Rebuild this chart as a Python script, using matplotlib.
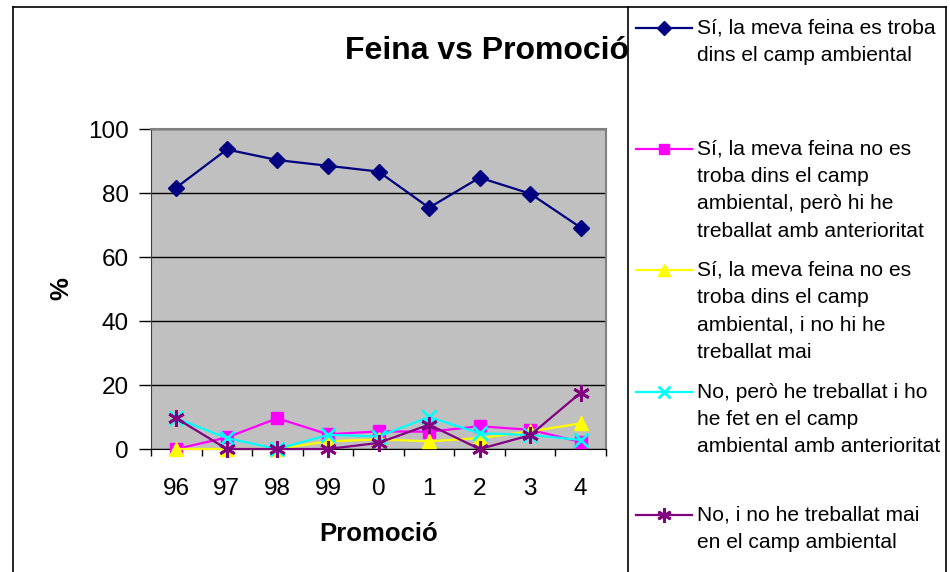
import numpy as np
import matplotlib
matplotlib.use("Agg")
import matplotlib.pyplot as plt
from matplotlib.lines import Line2D

plt.rcParams['font.family'] = ['Liberation Sans', 'DejaVu Sans']

# data
promocions = ['96', '97', '98', '99', '0', '1', '2', '3', '4']
si_dins = [81.7, 93.6, 90.3, 88.5, 86.7, 75.4, 84.8, 79.8, 69.2]
si_fora_abans = [0.0, 3.6, 9.6, 4.6, 5.5, 5.4, 7.1, 6.0, 2.2]
si_fora_mai = [0.0, 0.0, 0.0, 2.4, 3.0, 2.4, 3.4, 5.5, 8.0]
no_abans = [9.6, 3.4, 0.0, 4.4, 3.9, 10.0, 4.9, 4.4, 2.8]
no_mai = [9.6, 0.0, 0.0, 0.0, 1.9, 7.6, 0.0, 4.3, 17.6]

series_labels = [
    ['Sí, la meva feina es troba', 'dins el camp ambiental'],
    ['Sí, la meva feina no es', 'troba dins el camp', 'ambiental, però hi he', 'treballat amb anterioritat'],
    ['Sí, la meva feina no es', 'troba dins el camp', 'ambiental, i no hi he', 'treballat mai'],
    ['No, però he treballat i ho', 'he fet en el camp', 'ambiental amb anterioritat'],
    ['No, i no he treballat mai', 'en el camp ambiental'],
]
series_values = [si_dins, si_fora_abans, si_fora_mai, no_abans, no_mai]
colors = ['#000080', '#FF00FF', '#FFFF00', '#00FFFF', '#800080']
markers = ['D', 's', '^', 'x', (6, 2, 0)]
msizes = [8, 9, 10, 10, 12]

W, H = 950, 572
fig = plt.figure(figsize=(W / 100, H / 100), dpi=100)

def fx(px):
    return px / W

def fy(py):
    return 1 - py / H

# plot area in pixels: x 151..606, y 129..449
ax = fig.add_axes([fx(151), fy(449), fx(606) - fx(151), fy(129) - fy(449)])
ax.set_facecolor('#C0C0C0')

x = np.arange(len(promocions))
for vals, c, m, ms in zip(series_values, colors, markers, msizes):
    ax.plot(x, vals, color=c, lw=1.6, marker=m, markersize=ms,
            markeredgewidth=2 if m == 'x' or isinstance(m, tuple) else 1,
            markerfacecolor=c, markeredgecolor=c, clip_on=False, zorder=3)

ax.set_xlim(-0.5, len(promocions) - 0.5)
ax.set_ylim(0, 100)
ax.set_yticks([0, 20, 40, 60, 80, 100])
ax.yaxis.grid(True, color='#000000', lw=1)
ax.set_axisbelow(True)

# category boundaries as major ticks, labels at centres
ax.set_xticks(np.arange(-0.5, len(promocions), 1.0))
ax.set_xticklabels([])
ax.set_xticks(x, minor=True)
ax.set_xticklabels(promocions, minor=True)
ax.tick_params(axis='x', which='major', length=5, width=1, color='#000000')
ax.tick_params(axis='x', which='minor', length=0, pad=21, labelsize=17.5)
ax.tick_params(axis='y', length=9, width=1, pad=7, labelsize=17.5, direction='out')

for side in ['top', 'right']:
    ax.spines[side].set_color('#808080')
    ax.spines[side].set_linewidth(1.5)
ax.spines['left'].set_color('#404040')
ax.spines['bottom'].set_color('#000000')

ax.set_xlabel('Promoció', fontsize=18.5, fontweight='bold')
ax.xaxis.label.set_va('center')
ax.xaxis.set_label_coords(0.5, (449 - 534) / 320)
ax.set_ylabel('%', fontsize=18.5, fontweight='bold')
ax.yaxis.label.set_va('center')
ax.yaxis.set_label_coords((61 - 151) / 455, 0.5)

fig.text(fx(487), fy(51), 'Feina vs Promoció', fontsize=23, fontweight='bold',
         ha='center', va='center')

# chart and legend frames
for (x0, y0, x1, y1) in [(13, 7, 946, 7), (13, 7, 13, 572), (628, 7, 628, 572), (946, 7, 946, 572)]:
    fig.add_artist(Line2D([fx(x0), fx(x1)], [fy(y0), fy(y1)], color='#000000', lw=1.2))

# legend drawn by hand: marker on the first text line of each entry
entry_y = [28, 149, 270, 392, 515]
line_gap = 27.4
for lines, yy, c, m, ms in zip(series_labels, entry_y, colors, markers, msizes):
    fig.add_artist(Line2D([fx(636), fx(692)], [fy(yy), fy(yy)], color=c, lw=1.6))
    fig.add_artist(Line2D([fx(664)], [fy(yy)], color=c, marker=m, markersize=ms * 0.85,
                          markerfacecolor=c, markeredgecolor=c,
                          markeredgewidth=2 if m == 'x' or isinstance(m, tuple) else 1))
    for i, t in enumerate(lines):
        fig.text(fx(697), fy(yy + i * line_gap), t, fontsize=15.1, ha='left', va='center')

fig.savefig('out.png', dpi=100)
